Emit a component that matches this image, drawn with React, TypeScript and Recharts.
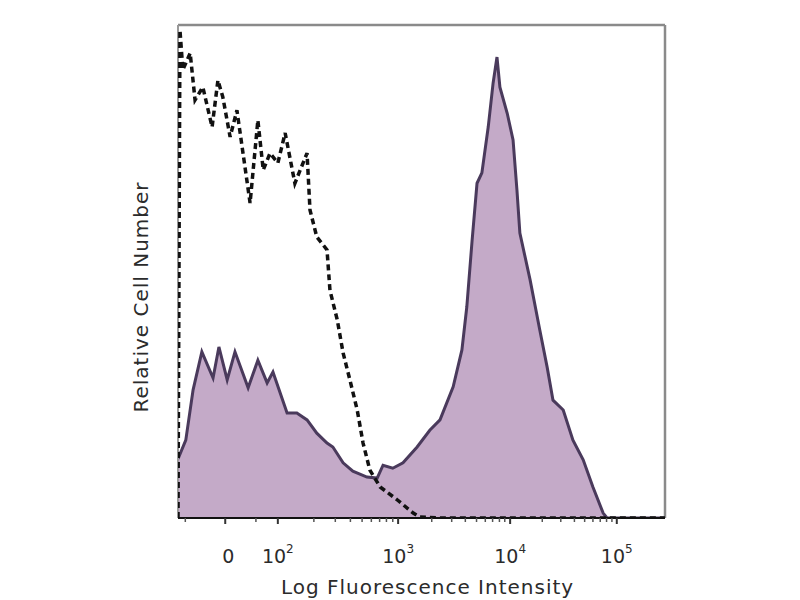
import React from 'react';
import {
  ComposedChart,
  Area,
  Line,
  XAxis,
  YAxis,
  ReferenceLine,
} from 'recharts';

// x is the display channel (0-1000 across the plot), y is relative cell count (0-100)
const stainedX = [0, 16, 31, 49, 72, 84, 101, 117, 144, 164, 183, 195, 224, 244, 265, 285, 306, 318, 339, 359, 388, 409, 421, 441, 462, 491, 517, 538, 565, 583, 593, 604, 614, 624, 637, 647, 655, 661, 676, 688, 696, 702, 723, 743, 758, 770, 791, 811, 832, 852, 873, 881, 1000];
const stainedY = [12, 15.8, 26, 33.7, 28.4, 34.7, 28, 33.7, 26.4, 32, 27.4, 29.6, 21.3, 21.3, 19.9, 17.2, 15.2, 14.4, 11.2, 9.5, 8.3, 8.1, 10.7, 10.1, 11.2, 14.4, 17.8, 19.9, 26.6, 34.1, 42.8, 56.4, 67.9, 70, 79.3, 88.2, 93.5, 87.4, 82.1, 76.7, 66.5, 57.8, 48.3, 38.1, 30.6, 23.9, 21.9, 15.8, 11.8, 6.3, 1, 0, 0];

const isotypeX = [0, 4, 10, 25, 35, 51, 70, 82, 92, 107, 121, 148, 164, 175, 189, 205, 220, 240, 265, 271, 285, 306, 312, 327, 339, 353, 368, 380, 394, 415, 450, 483, 497, 538, 1000];
const isotypeY = [0, 99, 90.9, 94.3, 84.8, 87.4, 79.3, 88.8, 85.4, 77.3, 82.7, 63.9, 80.7, 70.6, 74, 72, 78.1, 67.9, 74, 62.5, 57, 54.4, 46.2, 40.2, 33.5, 28, 21.9, 15.2, 9.7, 6.3, 3.7, 1, 0.2, 0, 0];

const majorTicks = [97, 205, 452, 682, 901];
const majorLabels = ['0', '2', '3', '4', '5'];
const minorTicks = [15, 160, 279, 323, 354, 378, 397, 414, 428, 441, 521, 562, 590, 613, 631, 646, 660, 671, 748, 786, 814, 835, 852, 867, 880, 891];

const stained = stainedX.map((x, i) => ({ x, y: stainedY[i] }));
const isotype = isotypeX.map((x, i) => ({ x, y: isotypeY[i] }));
const allTicks = [...minorTicks, ...majorTicks].sort((a, b) => a - b);

const FONT = '"DejaVu Sans", sans-serif';
const TEXT = '#2b2b2b';

const DecadeTick = (props: any) => {
  const { x, y, payload } = props;
  const idx = majorTicks.indexOf(payload.value);
  if (idx < 0) {
    return <line x1={x} x2={x} y1={y - 8} y2={y - 4} stroke="#555" strokeWidth={1.5} />;
  }
  const exp = majorLabels[idx];
  return (
    <g>
      <line x1={x} x2={x} y1={y - 8} y2={y - 2} stroke="#333" strokeWidth={2} />
      {exp === '0' ? (
        <text x={x + 3} y={y + 37} textAnchor="middle" fontSize={19} fill={TEXT} fontFamily={FONT}>
          0
        </text>
      ) : (
        <text x={x} y={y + 37} textAnchor="middle" fontSize={19} fill={TEXT} fontFamily={FONT}>
          10
          <tspan dy={-10} fontSize={12}>{exp}</tspan>
        </text>
      )}
    </g>
  );
};

export default function App() {
  return (
    <div style={{ position: 'absolute', left: 0, top: 0, width: 800, height: 600, background: '#fff' }}>
      <ComposedChart width={800} height={600} margin={{ top: 25, right: 135, bottom: 0, left: 178 }}>
        <XAxis
          dataKey="x"
          type="number"
          domain={[0, 1000]}
          ticks={allTicks}
          interval={0}
          tick={<DecadeTick />}
          tickLine={false}
          axisLine={{ stroke: '#111', strokeWidth: 2 }}
          height={82}
          allowDataOverflow
          label={{
            value: 'Log Fluorescence Intensity',
            position: 'insideBottom',
            offset: 6,
            dx: 6,
            fontSize: 20,
            letterSpacing: 1,
            fill: TEXT,
            fontFamily: FONT,
          }}
        />
        <YAxis type="number" domain={[0, 100]} hide width={0} allowDataOverflow />
        <ReferenceLine y={100} stroke="#8a8a8a" strokeWidth={2.5} />
        <ReferenceLine x={1000} stroke="#8a8a8a" strokeWidth={2.5} />
        <ReferenceLine x={0} stroke="#9a9a9a" strokeWidth={2} />
        <Area
          data={stained}
          dataKey="y"
          type="linear"
          fill="#c4aac8"
          fillOpacity={1}
          stroke="#4a3a5c"
          strokeWidth={3}
          dot={false}
          activeDot={false}
          isAnimationActive={false}
        />
        <Line
          data={isotype}
          dataKey="y"
          type="linear"
          stroke="#111"
          strokeWidth={3.5}
          strokeDasharray="6 4"
          dot={false}
          activeDot={false}
          isAnimationActive={false}
        />
      </ComposedChart>
      <svg width={800} height={600} style={{ position: 'absolute', left: 0, top: 0, pointerEvents: 'none' }}>
        <text
          x={0}
          y={0}
          transform="translate(142 297) rotate(-90)"
          textAnchor="middle"
          dominantBaseline="middle"
          fontSize={20}
          letterSpacing={1}
          fill={TEXT}
          fontFamily={FONT}
        >
          Relative Cell Number
        </text>
      </svg>
    </div>
  );
}
